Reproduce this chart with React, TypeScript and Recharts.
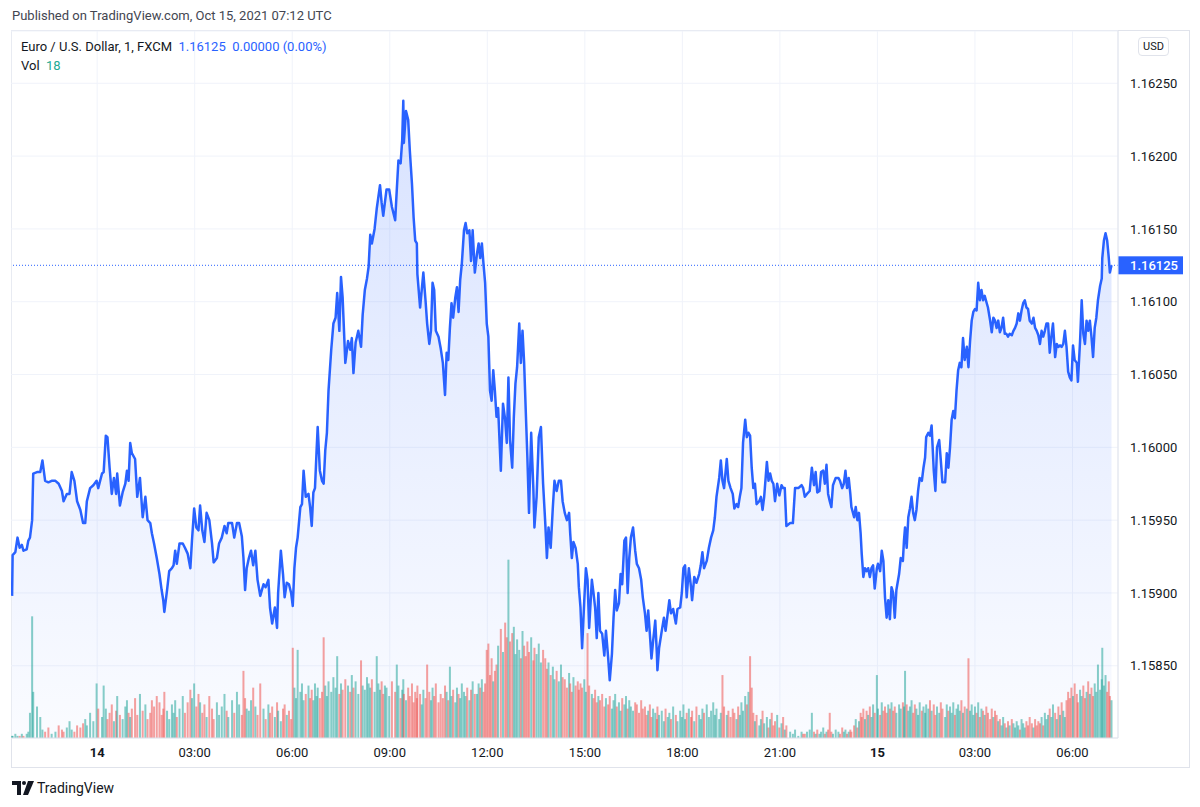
import React from 'react';
import { ComposedChart, Area, Bar, XAxis, YAxis, CartesianGrid, ReferenceLine } from 'recharts';

// minutes from Oct 14 00:00 UTC, one close per sample
const times = [
  -157, -156, -151, -147, -143, -139, -136, -130, -127, -124,
  -120, -118, -111, -105, -101, -96, -90, -84, -77, -71,
  -65, -62, -56, -51, -47, -42, -37, -31, -26, -22,
  -19, -13, -7, -1, 2, 9, 12, 16, 19, 23,
  27, 31, 35, 37, 42, 47, 52, 55, 58, 61,
  64, 70, 74, 79, 84, 89, 93, 98, 101, 105,
  110, 115, 119, 122, 124, 129, 133, 138, 141, 144,
  147, 152, 158, 162, 167, 172, 175, 179, 183, 187,
  190,
  194, 198, 202, 207, 212, 215, 221, 225, 230, 235,
  239, 242, 249, 253, 258, 262, 267, 270, 273, 276,
  280, 284, 288, 292, 296, 301, 307, 311, 316, 319,
  323, 328, 332, 334, 339, 343, 346, 350, 354, 358,
  361, 364, 367, 370, 375, 378, 381, 385, 390, 393,
  396, 399, 402, 405, 407, 411, 415, 418, 421, 424,
  427, 432, 436, 440, 443, 447, 450, 453, 458, 463,
  467, 470, 473, 477, 482, 487, 490, 494, 498, 501,
  504, 507, 512, 516, 519, 522, 525, 528, 531,
  534, 539, 544, 550, 553, 556, 560, 563, 565, 566,
  570, 574, 577, 581, 584, 587, 590, 591, 596, 599,
  602, 606, 609, 613, 616, 619, 622, 625, 630, 634,
  638, 642, 645, 648, 651, 654, 657, 661, 664, 667,
  670, 673, 677, 680, 683, 687, 690, 693, 697, 701,
  704, 707, 710, 713, 716, 719, 722, 725, 728, 731,
  734, 737, 740, 745, 749, 753, 756, 759, 762, 766,
  769, 772, 775, 779, 782, 785, 788, 791, 794, 797,
  801, 805, 807, 811, 815, 819, 823, 827, 830, 833,
  837, 841, 844, 848, 852, 856, 859,
  863, 867, 871, 873, 876, 879, 883, 887, 889, 892,
  895, 899, 902, 905, 908, 913, 916, 919, 922, 925,
  928, 932, 936, 939, 943, 946, 950, 953, 956, 959,
  963, 966, 969, 973, 976, 979, 982, 985, 989, 993,
  996, 1000, 1004, 1007, 1011, 1014, 1017, 1020, 1023, 1026,
  1030, 1033, 1034, 1037, 1042, 1046, 1049, 1053, 1056, 1059,
  1063, 1068, 1071, 1076, 1079, 1082, 1085, 1088, 1092, 1096,
  1098, 1102, 1106, 1111, 1114, 1117, 1120, 1125, 1129, 1133,
  1137, 1140, 1143, 1148, 1151, 1154, 1157, 1162, 1165, 1169,
  1173, 1176, 1180, 1183, 1186, 1189, 1192, 1196, 1199, 1202,
  1205,
  1208, 1211, 1214, 1217, 1222, 1225, 1228, 1231, 1236, 1239,
  1242, 1245, 1248, 1251, 1255, 1259, 1263, 1266, 1269, 1272,
  1279, 1284, 1288, 1294, 1300, 1303, 1306, 1310, 1315, 1319,
  1323, 1326, 1329, 1333, 1336, 1340, 1343, 1346, 1349, 1352,
  1355, 1358, 1363, 1368, 1371, 1375, 1378, 1381, 1384, 1387,
  1390, 1392, 1397, 1400, 1403, 1406, 1409, 1411, 1414, 1417,
  1420, 1423, 1426, 1429, 1432, 1435, 1439, 1441, 1445, 1448,
  1451, 1454, 1457, 1460, 1463, 1466, 1469, 1472, 1475, 1480,
  1483, 1487, 1489, 1491, 1494, 1497, 1500, 1503, 1506, 1509,
  1512, 1515, 1518, 1522, 1525, 1528, 1530, 1534, 1537,
  1540, 1544, 1547, 1550, 1554, 1557, 1560, 1565, 1568, 1571,
  1574, 1577, 1580, 1583, 1586, 1589, 1592, 1595, 1598, 1601,
  1605, 1608, 1611, 1614, 1617, 1620, 1623, 1626, 1629, 1632,
  1635, 1638, 1641, 1644, 1648, 1651, 1654, 1657, 1660, 1663,
  1666, 1669, 1672, 1675, 1678, 1681, 1684, 1688, 1691, 1694,
  1697, 1700, 1703, 1706, 1709, 1712, 1715, 1718, 1721, 1725,
  1728, 1731, 1734, 1737, 1740, 1743, 1746, 1749, 1752, 1755,
  1758, 1761, 1764, 1768, 1771, 1774, 1777, 1780, 1783, 1786,
  1789, 1792, 1795, 1798, 1801, 1804, 1808, 1810, 1814, 1817,
  1820, 1823, 1826, 1829, 1832, 1835, 1838, 1841, 1844, 1847,
  1851, 1854, 1855, 1858, 1861, 1864, 1867, 1869, 1872,
];

const closes = [
  1.15898, 1.15926, 1.15928, 1.15938, 1.15931, 1.15933, 1.15929, 1.15930, 1.15936, 1.15938,
  1.15950, 1.15982, 1.15983, 1.15983, 1.15991, 1.15977, 1.15976, 1.15977, 1.15977, 1.15975,
  1.15970, 1.15963, 1.15968, 1.15968, 1.15983, 1.15977, 1.15963, 1.15957, 1.15948, 1.15948,
  1.15963, 1.15972, 1.15974, 1.15977, 1.15972, 1.15982, 1.15983, 1.16008, 1.16007, 1.15986,
  1.15968, 1.15979, 1.15968, 1.15982, 1.15960, 1.15969, 1.15975, 1.15984, 1.15977, 1.16003,
  1.15996, 1.15992, 1.15966, 1.15979, 1.15952, 1.15966, 1.15950, 1.15948, 1.15941, 1.15934,
  1.15924, 1.15913, 1.15902, 1.15895, 1.15887, 1.15902, 1.15915, 1.15917, 1.15919, 1.15929,
  1.15920, 1.15934, 1.15934, 1.15931, 1.15927, 1.15917, 1.15936, 1.15958, 1.15945, 1.15943,
  1.15960,
  1.15943, 1.15935, 1.15955, 1.15950, 1.15934, 1.15921, 1.15924, 1.15934, 1.15938, 1.15946,
  1.15941, 1.15948, 1.15948, 1.15938, 1.15948, 1.15948, 1.15939, 1.15924, 1.15902, 1.15917,
  1.15924, 1.15929, 1.15919, 1.15929, 1.15909, 1.15898, 1.15906, 1.15904, 1.15909, 1.15890,
  1.15879, 1.15890, 1.15876, 1.15900, 1.15929, 1.15913, 1.15897, 1.15907, 1.15906, 1.15900,
  1.15891, 1.15917, 1.15931, 1.15938, 1.15959, 1.15961, 1.15984, 1.15966, 1.15968, 1.15959,
  1.15946, 1.15969, 1.15972, 1.15998, 1.16014, 1.15984, 1.15977, 1.15975, 1.15998, 1.16010,
  1.16039, 1.16067, 1.16085, 1.16089, 1.16106, 1.16080, 1.16117, 1.16103, 1.16058, 1.16073,
  1.16067, 1.16075, 1.16051, 1.16072, 1.16080, 1.16069, 1.16091, 1.16108, 1.16116, 1.16124,
  1.16146, 1.16140, 1.16150, 1.16164, 1.16172, 1.16180, 1.16168, 1.16159, 1.16168,
  1.16177, 1.16177, 1.16165, 1.16156, 1.16177, 1.16197, 1.16195, 1.16211, 1.16238, 1.16209,
  1.16231, 1.16225, 1.16204, 1.16181, 1.16158, 1.16142, 1.16140, 1.16119, 1.16096, 1.16108,
  1.16120, 1.16101, 1.16085, 1.16071, 1.16080, 1.16113, 1.16108, 1.16080, 1.16076, 1.16068,
  1.16058, 1.16036, 1.16065, 1.16060, 1.16082, 1.16099, 1.16089, 1.16103, 1.16110, 1.16093,
  1.16115, 1.16126, 1.16149, 1.16154, 1.16147, 1.16149, 1.16128, 1.16149, 1.16120, 1.16133,
  1.16140, 1.16130, 1.16140, 1.16126, 1.16113, 1.16085, 1.16076, 1.16039, 1.16032, 1.16053,
  1.16039, 1.16021, 1.16027, 1.15984, 1.16030, 1.16019, 1.16003, 1.16048, 1.16005, 1.15986,
  1.16021, 1.16044, 1.16055, 1.16085, 1.16058, 1.16080, 1.16058, 1.16025, 1.15993, 1.15955,
  1.16010, 1.15972, 1.15945, 1.15966, 1.16007, 1.16014, 1.15975, 1.15948, 1.15924, 1.15945,
  1.15931, 1.15959, 1.15977, 1.15970, 1.15977, 1.15977, 1.15963,
  1.15955, 1.15950, 1.15955, 1.15941, 1.15924, 1.15935, 1.15931, 1.15920, 1.15904, 1.15890,
  1.15862, 1.15895, 1.15917, 1.15909, 1.15876, 1.15909, 1.15900, 1.15890, 1.15869, 1.15900,
  1.15874, 1.15872, 1.15857, 1.15874, 1.15856, 1.15840, 1.15858, 1.15883, 1.15902, 1.15888,
  1.15893, 1.15913, 1.15906, 1.15936, 1.15938, 1.15900, 1.15924, 1.15938, 1.15945, 1.15929,
  1.15920, 1.15917, 1.15909, 1.15897, 1.15886, 1.15874, 1.15888, 1.15872, 1.15855, 1.15867,
  1.15881, 1.15858, 1.15847, 1.15862, 1.15874, 1.15883, 1.15874, 1.15886, 1.15895, 1.15886,
  1.15889, 1.15879, 1.15889, 1.15890, 1.15900, 1.15917, 1.15919, 1.15897, 1.15917, 1.15904,
  1.15895, 1.15911, 1.15907, 1.15913, 1.15919, 1.15928, 1.15917, 1.15922, 1.15931, 1.15938,
  1.15943, 1.15952, 1.15966, 1.15979, 1.15991, 1.15977, 1.15972, 1.15992, 1.15977, 1.15972,
  1.15968, 1.15958, 1.15961, 1.15959, 1.15966, 1.15972, 1.16003, 1.16019, 1.16007, 1.16010,
  1.16008,
  1.15986, 1.15972, 1.15975, 1.15961, 1.15963, 1.15966, 1.15957, 1.15966, 1.15990, 1.15977,
  1.15982, 1.15977, 1.15975, 1.15963, 1.15975, 1.15967, 1.15974, 1.15972, 1.15972, 1.15946,
  1.15948, 1.15948, 1.15972, 1.15972, 1.15974, 1.15972, 1.15966, 1.15968, 1.15970, 1.15986,
  1.15974, 1.15983, 1.15969, 1.15970, 1.15983, 1.15984, 1.15975, 1.15988, 1.15968, 1.15963,
  1.15959, 1.15974, 1.15979, 1.15979, 1.15977, 1.15972, 1.15975, 1.15984, 1.15972, 1.15979,
  1.15968, 1.15959, 1.15952, 1.15959, 1.15950, 1.15955, 1.15941, 1.15927, 1.15911, 1.15917,
  1.15915, 1.15917, 1.15911, 1.15917, 1.15919, 1.15903, 1.15917, 1.15920, 1.15915, 1.15929,
  1.15922, 1.15897, 1.15883, 1.15895, 1.15882, 1.15904, 1.15900, 1.15883, 1.15902, 1.15913,
  1.15924, 1.15922, 1.15936, 1.15945, 1.15931, 1.15952, 1.15958, 1.15966, 1.15955, 1.15950,
  1.15957, 1.15970, 1.15979, 1.15977, 1.15986, 1.15993, 1.16007, 1.16010, 1.16008,
  1.16015, 1.15984, 1.15970, 1.16000, 1.16005, 1.15991, 1.15976, 1.15976, 1.15996, 1.15986,
  1.16000, 1.16019, 1.16025, 1.16020, 1.16039, 1.16053, 1.16058, 1.16055, 1.16075, 1.16060,
  1.16069, 1.16055, 1.16073, 1.16087, 1.16093, 1.16095, 1.16094, 1.16113, 1.16101, 1.16108,
  1.16101, 1.16104, 1.16100, 1.16096, 1.16087, 1.16079, 1.16089, 1.16087, 1.16082, 1.16087,
  1.16079, 1.16082, 1.16089, 1.16078, 1.16078, 1.16076, 1.16078, 1.16077, 1.16080, 1.16082,
  1.16085, 1.16092, 1.16087, 1.16094, 1.16099, 1.16101, 1.16096, 1.16095, 1.16087, 1.16085,
  1.16089, 1.16082, 1.16080, 1.16077, 1.16071, 1.16080, 1.16076, 1.16080, 1.16085, 1.16085,
  1.16065, 1.16076, 1.16085, 1.16062, 1.16071, 1.16069, 1.16070, 1.16069, 1.16071, 1.16080,
  1.16069, 1.16052, 1.16048, 1.16046, 1.16070, 1.16060, 1.16058, 1.16045, 1.16073, 1.16101,
  1.16078, 1.16071, 1.16087, 1.16080, 1.16087, 1.16076, 1.16062, 1.16082, 1.16089, 1.16101,
  1.16111, 1.16116, 1.16130, 1.16142, 1.16147, 1.16142, 1.16130, 1.16120, 1.16125,
];

const volumes = [
  1, 1, 2, 1, 1, 2, 1, 2, 3, 12,
  58, 22, 15, 10, 4, 3, 5, 2, 3, 6,
  4, 3, 5, 8, 4, 3, 6, 5, 7, 9,
  6, 12, 8, 26, 14, 10, 25, 14, 9, 12,
  16, 8, 13, 20, 11, 9, 15, 18, 12, 10,
  14, 19, 11, 21, 13, 16, 9, 12, 18, 15,
  20, 17, 11, 14, 22, 13, 9, 16, 12, 18,
  10, 14, 20, 12, 17, 23, 19, 26, 15, 21,
  17,
  12, 16, 10, 20, 14, 9, 17, 11, 15, 21,
  13, 10, 18, 12, 22, 16, 11, 32, 19, 14,
  13, 18, 24, 15, 11, 26, 14, 9, 16, 12,
  15, 10, 17, 13, 8, 14, 16, 11, 13, 9,
  43, 24, 19, 42, 22, 26, 18, 21, 25, 19,
  23, 18, 26, 20, 24, 19, 22, 48, 25, 20,
  27, 22, 29, 24, 39, 21, 26, 23, 28, 25,
  22, 30, 24, 27, 21, 37, 25, 23, 29, 26,
  24, 28, 22, 39, 26, 23, 27, 21, 25,
  24, 20, 27, 22, 35, 25, 19, 23, 28, 21,
  18, 24, 20, 26, 17, 22, 19, 25, 21, 16,
  23, 19, 35, 22, 18, 24, 20, 26, 17, 21,
  19, 25, 22, 18, 34, 20, 23, 17, 24, 21,
  19, 26, 22, 20, 24, 18, 23, 27, 21, 21,
  26, 24, 28, 22, 26, 42, 45, 30, 38, 27,
  32, 35, 44, 52, 41, 55, 48, 85, 46, 50,
  53, 40, 47, 42, 38, 51, 44, 39, 46, 41,
  48, 37, 43, 40, 45, 36, 42, 38, 33, 36,
  30, 34, 28, 32, 27, 35, 29,
  28, 24, 31, 26, 22, 29, 25, 27, 23, 26,
  24, 28, 22, 50, 25, 21, 19, 23, 17, 20,
  18, 21, 15, 19, 16, 20, 14, 18, 21, 15,
  17, 13, 19, 16, 20, 14, 18, 15, 13, 17,
  16, 12, 18, 14, 15, 11, 13, 16, 10, 14,
  12, 9, 15, 11, 13, 8, 14, 10, 12, 9,
  15, 11, 8, 13, 10, 16, 9, 12, 14, 10,
  13, 8, 15, 11, 9, 14, 12, 16, 10, 13,
  17, 11, 14, 9, 12, 30, 15, 11, 13, 10,
  14, 12, 9, 15, 11, 17, 13, 20, 16, 22,
  39,
  24, 12, 8, 11, 6, 9, 13, 7, 10, 5,
  9, 12, 6, 8, 11, 5, 7, 10, 4, 6,
  3, 2, 4, 1, 3, 2, 2, 3, 4, 12,
  3, 2, 4, 2, 3, 5, 2, 3, 4, 12,
  3, 2, 4, 3, 2, 5, 3, 4, 2, 3,
  4, 3, 6, 9, 5, 8, 12, 10, 14, 9,
  13, 11, 15, 10, 16, 12, 30, 14, 11, 17,
  13, 15, 12, 16, 14, 17, 13, 15, 12, 16,
  14, 17, 15, 32, 16, 13, 15, 18, 12, 16,
  14, 11, 17, 13, 15, 12, 16, 14, 18,
  13, 16, 11, 15, 12, 17, 14, 10, 16, 13,
  15, 12, 17, 11, 14, 16, 13, 18, 12, 15,
  14, 38, 13, 16, 11, 15, 12, 17, 10, 14,
  13, 11, 15, 12, 9, 14, 10, 13, 11, 8,
  9, 6, 10, 7, 5, 8, 6, 9, 7, 5,
  8, 6, 4, 9, 7, 5, 8, 6, 10, 7,
  5, 9, 6, 8, 7, 10, 6, 12, 9, 11,
  14, 10, 16, 12, 9, 15, 11, 17, 13, 10,
  18, 22, 19, 24, 20, 26, 21, 17, 23, 20,
  25, 19, 22, 27, 21, 24, 20, 26, 22, 35,
  23, 28, 43, 25, 30, 22, 27, 20, 18,
];

const timeTicks = [0, 180, 360, 540, 720, 900, 1080, 1260, 1440, 1620, 1800];
const dayLabels: Record<number, string> = { 0: '14', 1440: '15' };
const priceTicks = [1.1585, 1.159, 1.1595, 1.16, 1.1605, 1.161, 1.1615, 1.162, 1.1625];
const lastPrice = 1.16125;

const FONT = 'Roboto, "Noto Sans", sans-serif';
const TEXT = '#131722';
const BLUE = '#2962ff';
const UP = 'rgba(38,166,154,0.55)';
const DOWN = 'rgba(239,83,80,0.55)';

const rows = times.map((t, i) => ({
  t,
  price: closes[i],
  vol: volumes[i],
  up: i === 0 || closes[i] >= closes[i - 1],
}));

function timeLabel(t: number) {
  if (dayLabels[t]) return dayLabels[t];
  const h = Math.floor(t / 60) % 24;
  return `${String(h).padStart(2, '0')}:00`;
}

const TimeTick = (props: any) => {
  const { x, y, payload } = props;
  const day = !!dayLabels[payload.value];
  return (
    <text x={x} y={y} dy="0.71em" textAnchor="middle" fontSize={13} fill={TEXT}
      fontFamily={FONT} fontWeight={day ? 700 : 400}>
      {timeLabel(payload.value)}
    </text>
  );
};

// volume bar: keep the library's x/y/height, only give it a readable width
const VolBar = (props: any) => {
  const { x, y, width, height, payload } = props;
  if (!height || height <= 0) return null;
  const cx = x + width / 2;
  return <rect x={cx - 1} y={y} width={2} height={height} fill={payload.up ? UP : DOWN} />;
};

const PriceTag = (props: any) => {
  const vb = props.viewBox || {};
  const x = vb.x + vb.width;
  const y = vb.y;
  return (
    <g>
      <rect x={x} y={y - 9} width={65} height={18} fill={BLUE} />
      <text x={x + 12} y={y} dy="0.355em" fontSize={13} fill="#fff" fontFamily={FONT} fontWeight={500}>
        {lastPrice.toFixed(5)}
      </text>
    </g>
  );
};

export default function App() {
  return (
    <div style={{ position: 'absolute', left: 0, top: 0, width: 1200, height: 807, background: '#fff', fontFamily: FONT, color: TEXT }}>
      <div style={{ position: 'absolute', left: 12, top: 8, fontSize: 13, lineHeight: '16px', color: '#434651' }}>
        Published on TradingView.com, Oct 15, 2021 07:12 UTC
      </div>

      <div style={{ position: 'absolute', left: 11, top: 30, width: 1179, height: 738, border: '1px solid #e0e3eb', boxSizing: 'border-box' }} />

      <div style={{ position: 'absolute', left: 11, top: 30 }}>
        <ComposedChart width={1179} height={738} data={rows} margin={{ top: 1, right: 0, bottom: 0, left: 0 }}>
          <defs>
            <linearGradient id="areaFill" x1="0" y1="0" x2="0" y2="1">
              <stop offset="0%" stopColor="rgba(41,98,255,0.3)" />
              <stop offset="100%" stopColor="rgba(41,98,255,0.04)" />
            </linearGradient>
          </defs>
          <CartesianGrid yAxisId="price" stroke="#f0f3fa" />
          <XAxis dataKey="t" type="number" scale="linear" domain={[-159, 1884]} ticks={timeTicks}
            allowDataOverflow height={30} tickLine={false} axisLine={{ stroke: '#e0e3eb' }}
            tickMargin={4} tick={<TimeTick />} interval={0} />
          <YAxis yAxisId="price" orientation="right" width={72} domain={[1.158004, 1.162859]}
            ticks={priceTicks} allowDataOverflow interval={0} tickLine={false}
            axisLine={{ stroke: '#e0e3eb' }} tickMargin={6}
            tickFormatter={(v: number) => v.toFixed(5)}
            tick={{ fontSize: 13, fill: TEXT, fontFamily: FONT }} />
          <YAxis yAxisId="vol" hide domain={[0, 337]} />
          <Area yAxisId="price" type="linear" dataKey="price" stroke={BLUE} strokeWidth={2.5}
            strokeLinejoin="round" fill="url(#areaFill)" dot={false} activeDot={false} isAnimationActive={false} />
          <Bar yAxisId="vol" dataKey="vol" shape={<VolBar />} isAnimationActive={false} />
          <ReferenceLine yAxisId="price" y={lastPrice} stroke={BLUE} strokeDasharray="1 2"
            label={<PriceTag />} />
        </ComposedChart>
      </div>

      <div style={{ position: 'absolute', left: 21, top: 39, fontSize: 13, lineHeight: '16px', whiteSpace: 'pre' }}>
        <span>Euro / U.S. Dollar, 1, FXCM  </span>
        <span style={{ color: BLUE }}>1.16125  0.00000 (0.00%)</span>
      </div>
      <div style={{ position: 'absolute', left: 21, top: 58, fontSize: 13, lineHeight: '16px', whiteSpace: 'pre' }}>
        <span>Vol  </span>
        <span style={{ color: '#22ab94' }}>18</span>
      </div>

      <div style={{ position: 'absolute', left: 1138, top: 37, width: 31, height: 19, border: '1px solid #e0e3eb', borderRadius: 4,
        boxSizing: 'border-box', fontSize: 11, lineHeight: '17px', textAlign: 'center' }}>
        USD
      </div>

      <svg style={{ position: 'absolute', left: 12, top: 781 }} width={22} height={14} viewBox="0 0 22 14">
        <path d="M0 0 H9 V14 H5 V4 H0 Z" fill={TEXT} />
        <circle cx={12} cy={2} r={2} fill={TEXT} />
        <path d="M16 0 H22 L16 14 H11 Z" fill={TEXT} />
      </svg>
      <div style={{ position: 'absolute', left: 37, top: 779, fontSize: 14, lineHeight: '18px' }}>
        TradingView
      </div>
    </div>
  );
}
